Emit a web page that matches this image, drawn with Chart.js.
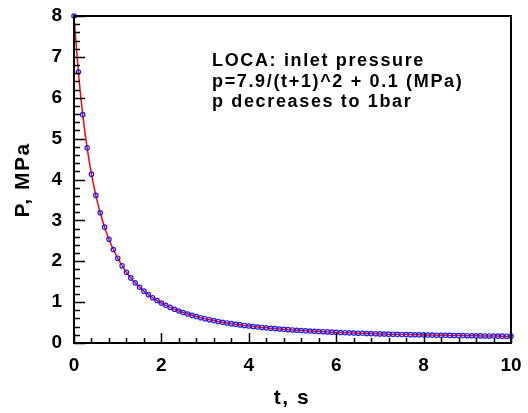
<!DOCTYPE html>
<html>
<head>
<meta charset="utf-8">
<script src="https://cdn.jsdelivr.net/npm/chart.js@4"></script>
<style>
  html,body{margin:0;padding:0;background:#fff;}
  #wrap{width:528px;height:413px;position:relative;}
</style>
</head>
<body>
<div id="wrap"><canvas id="chart" width="528" height="413"></canvas></div>
<script>
// time, s (every 0.1 s)
const times = [
  0,0.1,0.2,0.3,0.4,0.5,0.6,0.7,0.8,0.9,
  1,1.1,1.2,1.3,1.4,1.5,1.6,1.7,1.8,1.9,
  2,2.1,2.2,2.3,2.4,2.5,2.6,2.7,2.8,2.9,
  3,3.1,3.2,3.3,3.4,3.5,3.6,3.7,3.8,3.9,
  4,4.1,4.2,4.3,4.4,4.5,4.6,4.7,4.8,4.9,
  5,5.1,5.2,5.3,5.4,5.5,5.6,5.7,5.8,5.9,
  6,6.1,6.2,6.3,6.4,6.5,6.6,6.7,6.8,6.9,
  7,7.1,7.2,7.3,7.4,7.5,7.6,7.7,7.8,7.9,
  8,8.1,8.2,8.3,8.4,8.5,8.6,8.7,8.8,8.9,
  9,9.1,9.2,9.3,9.4,9.5,9.6,9.7,9.8,9.9,
  10
];
// inlet pressure, MPa
const pressure = [
  8.000,6.629,5.586,4.775,4.131,3.611,3.186,2.834,2.538,2.288,
  2.075,1.891,1.732,1.593,1.472,1.364,1.269,1.184,1.108,1.039,
  0.978,0.922,0.871,0.825,0.783,0.745,0.710,0.677,0.647,0.619,
  0.594,0.570,0.548,0.527,0.508,0.490,0.473,0.458,0.443,0.429,
  0.416,0.404,0.392,0.381,0.371,0.361,0.352,0.343,0.335,0.327,
  0.319,0.312,0.306,0.299,0.293,0.287,0.281,0.276,0.271,0.266,
  0.261,0.257,0.252,0.248,0.244,0.240,0.237,0.233,0.230,0.227,
  0.223,0.220,0.217,0.215,0.212,0.209,0.207,0.204,0.202,0.200,
  0.198,0.195,0.193,0.191,0.189,0.188,0.186,0.184,0.182,0.181,
  0.179,0.177,0.176,0.174,0.173,0.172,0.170,0.169,0.168,0.166,
  0.165
];
const xMajor = [0,2,4,6,8,10];
const yMajor = [0,1,2,3,4,5,6,7,8];
const noteLines = ['LOCA: inlet pressure','p=7.9/(t+1)^2 + 0.1 (MPa)','p decreases to 1bar'];
const xTitle = 't, s';
const yTitle = 'P, MPa';

const FONT = '"Liberation Sans", Arial, sans-serif';

// frame, inward ticks, titles and note
const decor = {
  id:'decor',
  afterDatasetsDraw(chart){
    const ctx = chart.ctx;
    const xs = chart.scales.x, ys = chart.scales.y;
    const L = xs.getPixelForValue(0), R = xs.getPixelForValue(10);
    const T = ys.getPixelForValue(8), B = ys.getPixelForValue(0);
    ctx.save();
    ctx.strokeStyle = '#000';
    ctx.lineWidth = 2;
    ctx.beginPath();
    ctx.moveTo(L, T); ctx.lineTo(R, T); ctx.lineTo(R, B); ctx.lineTo(L, B); ctx.closePath();
    ctx.stroke();
    ctx.lineWidth = 1.5;
    ctx.beginPath();
    for(let i=0;i<=25;i++){
      const px = Math.round(xs.getPixelForValue(i*0.4)) + 0.5;
      const len = (i%5===0) ? 10 : 5;
      ctx.moveTo(px, B); ctx.lineTo(px, B - len);
    }
    for(let i=0;i<=40;i++){
      const py = Math.round(ys.getPixelForValue(i*0.2)) + 0.5;
      const len = (i%5===0) ? 11 : 6;
      ctx.moveTo(L, py); ctx.lineTo(L + len, py);
    }
    ctx.stroke();

    ctx.fillStyle = '#000';
    ctx.font = 'bold 21px ' + FONT;
    ctx.letterSpacing = '1.5px';
    ctx.textAlign = 'center';
    ctx.textBaseline = 'middle';
    ctx.fillText(xTitle, 292, 398);
    ctx.save();
    ctx.translate(23, 180);
    ctx.rotate(-Math.PI/2);
    ctx.fillText(yTitle, 0, 0);
    ctx.restore();

    ctx.font = 'bold 18px ' + FONT;
    ctx.letterSpacing = '1.65px';
    ctx.textAlign = 'left';
    ctx.textBaseline = 'alphabetic';
    noteLines.forEach((s,i)=>{ ctx.fillText(s, 212, 66 + i*20.5); });
    ctx.restore();
  }
};

new Chart(document.getElementById('chart'), {
  type:'line',
  data:{
    datasets:[{
      data: times.map((t,i)=>({x:t, y:pressure[i]})),
      borderColor:'#ff0000',
      borderWidth:1.5,
      cubicInterpolationMode:'monotone',
      pointRadius:2.2,
      pointBorderWidth:1.2,
      pointBorderColor:'#1a1aff',
      pointBackgroundColor:'rgba(0,0,0,0)',
      fill:false,
      clip:false
    }]
  },
  options:{
    responsive:false,
    animation:false,
    events:[],
    layout:{padding:{left:0, top:16, right:17, bottom:0}},
    plugins:{legend:{display:false}, tooltip:{enabled:false}},
    scales:{
      x:{
        type:'linear', min:0, max:10,
        afterBuildTicks(s){ s.ticks = xMajor.map(v=>({value:v})); },
        afterFit(s){ s.height = 70; s.paddingLeft = 0; s.paddingRight = 0; },
        grid:{display:false, drawTicks:false},
        border:{display:false},
        ticks:{color:'#000', padding:11, maxRotation:0, autoSkip:false, font:{family:FONT, size:19, weight:'bold'}}
      },
      y:{
        type:'linear', min:0, max:8,
        afterBuildTicks(s){ s.ticks = yMajor.map(v=>({value:v})); },
        afterFit(s){ s.width = 74; s.paddingTop = 0; s.paddingBottom = 0; },
        grid:{display:false, drawTicks:false},
        border:{display:false},
        ticks:{color:'#000', padding:12, autoSkip:false, font:{family:FONT, size:19, weight:'bold'}}
      }
    }
  },
  plugins:[decor]
});
</script>
</body>
</html>
